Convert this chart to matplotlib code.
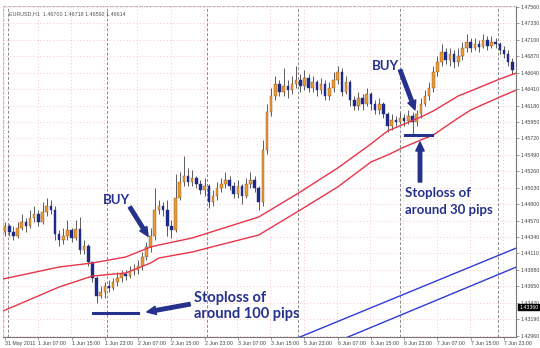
import matplotlib
matplotlib.use('Agg')
import matplotlib.pyplot as plt
import numpy as np

# EURUSD H1 candles (price)
first_open = 1.44410
closes = [1.44494, 1.44410, 1.44354, 1.44466, 1.44550, 1.44494, 1.44606, 1.44662, 1.44550, 1.44690,
          1.44774, 1.44718, 1.44382, 1.44298, 1.44354, 1.44438, 1.44326, 1.44452, 1.44158, 1.44214,
          1.43990, 1.43766, 1.43514, 1.43570, 1.43654, 1.43626, 1.43710, 1.43766, 1.43822, 1.43794,
          1.43864, 1.43878, 1.43934, 1.44060, 1.44200, 1.44354, 1.44718, 1.44774, 1.44718, 1.44494,
          1.44438, 1.44886, 1.45110, 1.45194, 1.45110, 1.45166, 1.45082, 1.44998, 1.45054, 1.44830,
          1.44914, 1.45026, 1.45082, 1.45138, 1.45054, 1.44942, 1.45054, 1.44914, 1.45082, 1.45138,
          1.45026, 1.44830, 1.45558, 1.46090, 1.46314, 1.46482, 1.46370, 1.46454, 1.46398, 1.46482,
          1.46538, 1.46454, 1.46566, 1.46426, 1.46510, 1.46398, 1.46482, 1.46314, 1.46426, 1.46538,
          1.46650, 1.46370, 1.46510, 1.46258, 1.46174, 1.46286, 1.46202, 1.46342, 1.46202, 1.46118,
          1.46202, 1.46062, 1.45894, 1.45978, 1.45950, 1.46006, 1.45964, 1.46034, 1.45950, 1.46062,
          1.46202, 1.46314, 1.46426, 1.46650, 1.46790, 1.46930, 1.46818, 1.46902, 1.46790, 1.46874,
          1.46986, 1.47070, 1.46986, 1.47042, 1.47000, 1.47098, 1.47014, 1.47070, 1.47042, 1.46958,
          1.46902, 1.46790, 1.46678]
highs = [1.44550, 1.44522, 1.44494, 1.44550, 1.44662, 1.44606, 1.44718, 1.44774, 1.44718, 1.44830,
         1.44886, 1.44858, 1.44774, 1.44438, 1.44466, 1.44578, 1.44466, 1.44578, 1.44620, 1.44298,
         1.44242, 1.43990, 1.43794, 1.43654, 1.43710, 1.43738, 1.43766, 1.43850, 1.43878, 1.43878,
         1.43934, 1.43962, 1.44018, 1.44130, 1.44270, 1.44466, 1.45026, 1.44858, 1.44830, 1.44858,
         1.44578, 1.45222, 1.45250, 1.45474, 1.45306, 1.45278, 1.45194, 1.45138, 1.45166, 1.45082,
         1.44998, 1.45110, 1.45166, 1.45250, 1.45194, 1.45110, 1.45138, 1.45082, 1.45166, 1.45250,
         1.45194, 1.45054, 1.45698, 1.46202, 1.46426, 1.46594, 1.46538, 1.46706, 1.46538, 1.46594,
         1.46734, 1.46622, 1.46678, 1.46622, 1.46594, 1.46538, 1.46566, 1.46538, 1.46510, 1.46650,
         1.46734, 1.46706, 1.46594, 1.46538, 1.46314, 1.46370, 1.46342, 1.46426, 1.46370, 1.46258,
         1.46286, 1.46230, 1.46090, 1.46062, 1.46034, 1.46090, 1.46062, 1.46118, 1.46090, 1.46118,
         1.46286, 1.46398, 1.46510, 1.46734, 1.46874, 1.47042, 1.46986, 1.46986, 1.46958, 1.46986,
         1.47070, 1.47182, 1.47126, 1.47126, 1.47098, 1.47182, 1.47154, 1.47154, 1.47126, 1.47070,
         1.47014, 1.46958, 1.46846]
lows = [1.44354, 1.44354, 1.44298, 1.44326, 1.44438, 1.44410, 1.44466, 1.44550, 1.44494, 1.44522,
        1.44634, 1.44662, 1.44298, 1.44214, 1.44242, 1.44298, 1.44270, 1.44298, 1.44102, 1.44102,
        1.43934, 1.43710, 1.43416, 1.43486, 1.43486, 1.43570, 1.43598, 1.43654, 1.43710, 1.43738,
        1.43766, 1.43808, 1.43822, 1.43878, 1.44018, 1.44130, 1.44298, 1.44662, 1.44634, 1.44354,
        1.44326, 1.44410, 1.44858, 1.45054, 1.45054, 1.45054, 1.45026, 1.44942, 1.44914, 1.44746,
        1.44774, 1.44858, 1.44970, 1.45026, 1.44998, 1.44886, 1.44886, 1.44802, 1.44886, 1.45026,
        1.44970, 1.44718, 1.44774, 1.45502, 1.46034, 1.46258, 1.46314, 1.46314, 1.46286, 1.46342,
        1.46426, 1.46370, 1.46398, 1.46370, 1.46370, 1.46314, 1.46342, 1.46258, 1.46258, 1.46370,
        1.46482, 1.46314, 1.46342, 1.46174, 1.46118, 1.46118, 1.46118, 1.46174, 1.46118, 1.46062,
        1.46062, 1.46006, 1.45810, 1.45838, 1.45894, 1.45922, 1.45894, 1.45922, 1.45782, 1.45894,
        1.46006, 1.46174, 1.46258, 1.46370, 1.46594, 1.46734, 1.46762, 1.46734, 1.46706, 1.46734,
        1.46818, 1.46930, 1.46930, 1.46958, 1.46930, 1.46986, 1.46958, 1.46986, 1.46986, 1.46902,
        1.46846, 1.46734, 1.46622]

# moving average lines (candle index, price)
ma_idx = [-0.5, 13, 21, 29, 35, 37, 45, 61, 71, 80, 88, 92, 96, 100, 103, 109, 112, 119, 123]
ma_red_upper = [1.43752, 1.43920, 1.43976, 1.44060, 1.44200, 1.44228, 1.44326, 1.44620, 1.44970, 1.45306,
                1.45642, 1.45824, 1.45922, 1.46020, 1.46104, 1.46314, 1.46384, 1.46552, 1.46636]
ma_red_lower = [1.43304, 1.43640, 1.43794, 1.43836, 1.43976, 1.44046, 1.44130, 1.44368, 1.44718, 1.45040,
                1.45390, 1.45488, 1.45600, 1.45698, 1.45768, 1.46006, 1.46118, 1.46300, 1.46398]
blue_upper_idx = [68, 123]
blue_upper = [1.42870, 1.44186]
blue_lower_idx = [80, 123]
blue_lower = [1.42880, 1.43920]

price_ticks = [1.47560 - 0.0023 * k for k in range(21)]
time_ticks = list(range(0, 121, 8))
time_labels = ["31 May 2011", "1 Jun 07:00", "1 Jun 15:00", "1 Jun 23:00", "2 Jun 07:00",
               "2 Jun 15:00", "2 Jun 23:00", "3 Jun 07:00", "3 Jun 15:00", "5 Jun 23:00",
               "6 Jun 07:00", "6 Jun 15:00", "6 Jun 23:00", "7 Jun 07:00", "7 Jun 15:00",
               "7 Jun 23:00"]
day_lines = [0.7, 24.5, 48.5, 70.5, 95, 118.5]
current_price = 1.43360


def main():
    fig = plt.figure(figsize=(5.4, 3.48), dpi=100)
    fig.patch.set_facecolor('white')
    ax = fig.add_axes([0.0056, 0.0316, 0.950, 0.9512])

    n = len(closes)
    idx = np.arange(n)
    c = np.array(closes)
    o = np.r_[first_open, c[:-1]]
    h = np.array(highs)
    l = np.array(lows)

    c_bull = '#EE9830'
    c_bear = '#1E2A8A'
    navy = '#25318C'
    small = dict(family=['Liberation Sans', 'DejaVu Sans'])

    # faint dotted grid
    for p in price_ticks:
        ax.axhline(p, color='#F5B5B5', lw=0.6, ls=(0, (1, 3)), zorder=0)
    for t in time_ticks:
        ax.axvline(t - 0.2, color='#F5B5B5', lw=0.6, ls=(0, (1, 3)), zorder=0)
    for d in day_lines:
        ax.axvline(d, color='#8A8A8A', lw=0.7, ls=(0, (3, 2)), zorder=1)

    # candles
    ax.vlines(idx, l, h, color='#5A5A5A', lw=0.7, zorder=2)
    bull = c >= o
    body_lo = np.minimum(o, c)
    body_h = np.maximum(np.abs(c - o), 0.00004)
    ax.bar(idx[bull], body_h[bull], bottom=body_lo[bull], width=0.62,
           color=c_bull, edgecolor='#7A5A30', linewidth=0.3, zorder=3)
    ax.bar(idx[~bull], body_h[~bull], bottom=body_lo[~bull], width=0.62,
           color=c_bear, edgecolor=c_bear, linewidth=0.3, zorder=3)

    # moving averages
    ax.plot(ma_idx, ma_red_upper, color='#E8344A', lw=1.0, zorder=4)
    ax.plot(ma_idx, ma_red_lower, color='#E8344A', lw=1.0, zorder=4)
    ax.plot(blue_upper_idx, blue_upper, color='#2F3BD8', lw=1.0, zorder=4)
    ax.plot(blue_lower_idx, blue_lower, color='#2F3BD8', lw=1.0, zorder=4)

    # annotations
    font = dict(family=['Lato', 'DejaVu Sans'], weight='bold', color=navy)
    arrow = dict(arrowstyle='simple,head_width=0.6,head_length=0.65,tail_width=0.25',
                 color=navy, shrinkA=0, shrinkB=0)

    ax.text(26.9, 1.4486, "BUY", fontsize=9.5, ha='center', va='center', **font)
    ax.annotate("", xy=(34.4, 1.4435), xytext=(30.0, 1.4476), arrowprops=arrow, zorder=6)
    ax.plot([21.2, 32.0], [1.43276, 1.43276], color=navy, lw=2.2, zorder=6)
    ax.annotate("", xy=(34.1, 1.4329), xytext=(44.5, 1.4340), arrowprops=arrow, zorder=6)
    ax.text(45.4, 1.4349, "Stoploss of", fontsize=10.5, ha='left', va='center', **font)
    ax.text(45.4, 1.4326, "around 100 pips", fontsize=10.5, ha='left', va='center', **font)

    ax.text(91.6, 1.4673, "BUY", fontsize=9.5, ha='center', va='center', **font)
    ax.annotate("", xy=(98.6, 1.4612), xytext=(95.0, 1.4668), arrowprops=arrow, zorder=6)
    ax.plot([96.2, 102.6], [1.4577, 1.4577], color=navy, lw=2.2, zorder=6)
    ax.annotate("", xy=(99.8, 1.4567), xytext=(99.8, 1.4511), arrowprops=arrow, zorder=6)
    ax.text(96.2, 1.4496, "Stoploss of", fontsize=9.5, ha='left', va='center', **font)
    ax.text(96.2, 1.4472, "around 30 pips", fontsize=9.5, ha='left', va='center', **font)

    ax.text(0.012, 0.985, "EURUSD,H1  1.46700 1.46718 1.46592 1.46614",
            transform=ax.transAxes, fontsize=3.9, color='#555555', va='top', ha='left', **small)

    # axes
    ax.set_xlim(-0.5, 122.9)
    ax.set_ylim(1.42940, 1.47574)
    ax.yaxis.tick_right()
    ax.set_yticks(price_ticks)
    ax.set_yticklabels(["%.5f" % p for p in price_ticks], fontsize=3.8, color='#444444', **small)
    ax.set_xticks(time_ticks)
    ax.set_xticklabels(time_labels, fontsize=3.8, color='#444444', ha='left', **small)
    ax.tick_params(axis='both', length=2, width=0.5, color='#777777', pad=1.2)

    for s in ['top', 'left']:
        ax.spines[s].set_color('#BBBBBB')
        ax.spines[s].set_linestyle((0, (3, 2)))
        ax.spines[s].set_linewidth(0.7)
    ax.spines['right'].set_color('#777777')
    ax.spines['bottom'].set_color('#777777')
    ax.spines['right'].set_linewidth(0.8)
    ax.spines['bottom'].set_linewidth(0.8)

    # current price box
    ax.text(1.006, (current_price - 1.42940) / (1.47574 - 1.42940), "%.5f" % current_price,
            transform=ax.transAxes, fontsize=3.8, color='white', va='center', ha='left',
            bbox=dict(boxstyle='square,pad=0.12', fc='black', ec='black'), **small)

    fig.savefig('out.png', dpi=100)


if __name__ == "__main__":
    main()
